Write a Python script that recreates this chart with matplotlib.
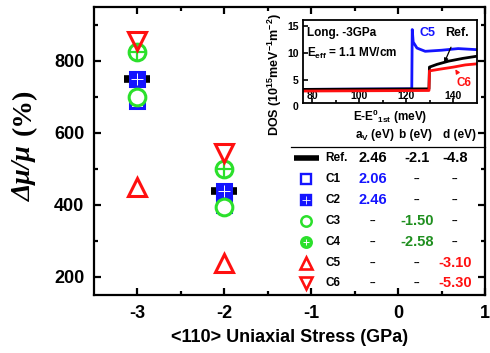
import matplotlib
matplotlib.use("Agg")
import matplotlib.pyplot as plt

plt.rcParams['font.family'] = ['Liberation Sans', 'DejaVu Sans']
plt.rcParams['font.weight'] = 'bold'
plt.rcParams['axes.unicode_minus'] = False
plt.rcParams['mathtext.fontset'] = 'custom'
plt.rcParams['mathtext.rm'] = 'Liberation Sans:bold'
plt.rcParams['mathtext.it'] = 'Liberation Sans:bold'
plt.rcParams['mathtext.bf'] = 'Liberation Sans:bold'

# ---- mobility enhancement vs. uniaxial stress ----
stress = [-3, -2]
ref = [750, 440]
c1 = [690, 400]
c2 = [750, 440]
c3 = [700, 395]
c4 = [825, 500]
c5 = [450, 240]
c6 = [855, 545]

# ---- deformation potential table ----
row_names = ["Ref.", "C1", "C2", "C3", "C4", "C5", "C6"]
col_heads = ["a$_{\\rm V}$ (eV)", "b (eV)", "d (eV)"]
av_vals = ["2.46", "2.06", "2.46", "--", "--", "--", "--"]
b_vals = ["-2.1", "--", "--", "-1.50", "-2.58", "--", "--"]
d_vals = ["-4.8", "--", "--", "--", "--", "-3.10", "-5.30"]

# ---- inset: DOS vs energy at -3 GPa ----
e_c5 = [76, 122.3, 122.5, 122.9, 124.5, 128, 135, 142, 150]
dos_c5 = [3.3, 3.4, 14.3, 12.0, 10.9, 10.3, 10.5, 10.8, 10.6]
e_ref = [76, 129.6, 129.8, 133, 138, 144, 150]
dos_ref = [3.3, 3.4, 7.4, 7.9, 8.5, 9.0, 9.4]
e_c6 = [76, 129.6, 129.8, 134, 140, 145, 150]
dos_c6 = [3.0, 3.1, 6.7, 7.0, 7.4, 7.8, 8.0]

BLUE = "#1414ff"
GREEN = "#2be02b"
GREEN_TXT = "#1f8f1f"
RED = "#ff1010"

fig = plt.figure(figsize=(4.9, 3.53), dpi=100)
ax = fig.add_axes([0.1918, 0.1643, 0.798, 0.816])

mew = 2.2
ax.plot(stress, ref, ls='none', marker='_', ms=19, mew=5.5, color='black', zorder=3)
ax.plot(stress, c1, ls='none', marker='s', ms=10, mew=mew, mfc='white', mec=BLUE, zorder=4)
ax.plot(stress, c2, ls='none', marker='s', ms=10, mew=mew, mfc=BLUE, mec=BLUE, zorder=5)
ax.plot(stress, c2, ls='none', marker='+', ms=9, mew=0.7, color='white', zorder=5)
ax.plot(stress, c3, ls='none', marker='o', ms=12, mew=mew, mfc='white', mec=GREEN, zorder=6)
ax.plot(stress, c4, ls='none', marker='o', ms=12, mew=mew, mfc='none', mec=GREEN, zorder=6)
ax.plot(stress, c4, ls='none', marker='+', ms=12, mew=1.6, color=GREEN, zorder=6)
ax.plot(stress, c5, ls='none', marker='^', ms=13.5, mew=mew, mfc='none', mec=RED, zorder=7)
ax.plot(stress, c6, ls='none', marker='v', ms=13.5, mew=mew, mfc='none', mec=RED, zorder=7)

ax.set_xlim(-3.5, 1.0)
ax.set_ylim(150, 950)
ax.set_xticks([-3, -2, -1, 0, 1])
ax.set_xticks([-2.5, -1.5, -0.5, 0.5], minor=True)
ax.set_yticks([200, 400, 600, 800])
ax.set_yticks([300, 500, 700, 900], minor=True)
ax.tick_params(which='both', direction='in', top=True, right=True, width=1.6)
ax.tick_params(which='major', length=5, labelsize=13, pad=7)
ax.tick_params(which='minor', length=3)
for lab in ax.get_xticklabels() + ax.get_yticklabels():
    lab.set_fontweight('bold')
for sp in ax.spines.values():
    sp.set_linewidth(1.6)

ax.set_xlabel("<110> Uniaxial Stress (GPa)", fontsize=13, fontweight='bold', labelpad=5)

fig.text(0.049, 0.510, "Δμ/μ", rotation=90, ha='center', va='center', fontsize=20,
         family='Liberation Serif', style='italic', weight='bold')
fig.text(0.049, 0.682, "(%)", rotation=90, ha='center', va='center', fontsize=20,
         family='Liberation Serif', weight='bold')

# ---- table drawn inside the main axes ----
tr = ax.transAxes
head_x = [0.718, 0.822, 0.934]
for hx, h in zip(head_x, col_heads):
    ax.text(hx, 0.556, h, transform=tr, ha='center', va='center', fontsize=8.5, fontweight='bold')
ax.plot([0.505, 1.0], [0.515, 0.515], transform=tr, color='black', lw=0.9, clip_on=False)

row_y = [0.475, 0.402, 0.330, 0.258, 0.185, 0.112, 0.041]
mk_x = 0.541
ax.plot([mk_x], [row_y[0]], transform=tr, marker='_', ms=18, mew=4, color='black', ls='none')
ax.plot([mk_x], [row_y[1]], transform=tr, marker='s', ms=6.5, mew=1.7, mfc='white', mec=BLUE, ls='none')
ax.plot([mk_x], [row_y[2]], transform=tr, marker='s', ms=6.5, mew=1.7, mfc=BLUE, mec=BLUE, ls='none')
ax.plot([mk_x], [row_y[2]], transform=tr, marker='+', ms=6, mew=0.6, color='white', ls='none')
ax.plot([mk_x], [row_y[3]], transform=tr, marker='o', ms=7.5, mew=1.8, mfc='white', mec=GREEN, ls='none')
ax.plot([mk_x], [row_y[4]], transform=tr, marker='o', ms=7.5, mew=1.8, mfc=GREEN, mec=GREEN, ls='none')
ax.plot([mk_x], [row_y[4]], transform=tr, marker='+', ms=5, mew=0.7, color='white', ls='none')
ax.plot([mk_x], [row_y[5]], transform=tr, marker='^', ms=9, mew=1.9, mfc='white', mec=RED, ls='none')
ax.plot([mk_x], [row_y[6]], transform=tr, marker='v', ms=9, mew=1.9, mfc='white', mec=RED, ls='none')

val_colors = {
    'av': ['black', BLUE, BLUE, 'black', 'black', 'black', 'black'],
    'b': ['black', 'black', 'black', GREEN_TXT, GREEN_TXT, 'black', 'black'],
    'd': ['black', 'black', 'black', 'black', 'black', RED, RED],
}
col_x = [0.713, 0.827, 0.924]
for i, name in enumerate(row_names):
    y = row_y[i]
    ax.text(0.591, y, name, transform=tr, ha='left', va='center', fontsize=8.5, fontweight='bold')
    for cx, vals, key in zip(col_x, [av_vals, b_vals, d_vals], ['av', 'b', 'd']):
        v = vals[i]
        fs = 7 if v == "--" else 10.5
        ax.text(cx, y, v, transform=tr, ha='center', va='center', fontsize=fs,
                fontweight='bold', color=val_colors[key][i])

# ---- inset ----
ins = fig.add_axes([0.6178, 0.7082, 0.3557, 0.2351])
ins.plot(e_c5, dos_c5, color=BLUE, lw=2.0)
ins.plot(e_ref, dos_ref, color='black', lw=2.0)
ins.plot(e_c6, dos_c6, color=RED, lw=2.0)
ins.set_xlim(76, 150)
ins.set_ylim(0.8, 16.05)
ins.set_xticks([80, 100, 120, 140])
ins.set_xticks([90, 110, 130], minor=True)
ins.set_yticks([5, 10, 15])
ins.tick_params(which='both', direction='in', width=1.2)
ins.tick_params(axis='x', which='major', length=3.5, labelsize=7.5, pad=-9)
ins.tick_params(axis='x', which='minor', length=2)
ins.tick_params(axis='y', length=3.5, labelsize=7.5, pad=3)
for lab in ins.get_xticklabels() + ins.get_yticklabels():
    lab.set_fontweight('bold')
ins.text(-0.026, 0.0, "0", transform=ins.get_yaxis_transform(), ha='right', va='center',
         fontsize=7.5, fontweight='bold')
for sp in ins.spines.values():
    sp.set_linewidth(1.3)

ins.text(77.8, 13.6, "Long. -3GPa", ha='left', va='center', fontsize=8.5, fontweight='bold')
ins.text(77.8, 9.9, "E$_{\\rm eff}$ = 1.1 MV/cm", ha='left', va='center', fontsize=8.5, fontweight='bold')
ins.text(129.1, 13.6, "C5", ha='center', va='center', fontsize=9, fontweight='bold', color=BLUE)
ins.annotate("Ref.", xy=(136.1, 8.2), xytext=(141.5, 13.6), ha='center', va='center',
             fontsize=9, fontweight='bold', color='black',
             arrowprops=dict(arrowstyle='-|>', color='black', lw=0.9, mutation_scale=6,
                             shrinkA=4, shrinkB=0))
ins.annotate("C6", xy=(140.8, 7.0), xytext=(144.3, 4.5), ha='center', va='center',
             fontsize=8.5, fontweight='bold', color=RED,
             arrowprops=dict(arrowstyle='-|>', color=RED, lw=0.9, mutation_scale=6,
                             shrinkA=2, shrinkB=0))

ins.text(0.5, -0.17, "E-E$^{0}$$_{\\rm 1st}$ (meV)", transform=ins.transAxes, ha='center',
         va='center', fontsize=8.5, fontweight='bold')
ins.text(-0.159, 0.337, "DOS (10$^{15}$meV$^{-1}$m$^{-2}$)", transform=ins.transAxes,
         rotation=90, ha='center', va='center', fontsize=9, fontweight='bold')

fig.savefig("out.png", dpi=100)
